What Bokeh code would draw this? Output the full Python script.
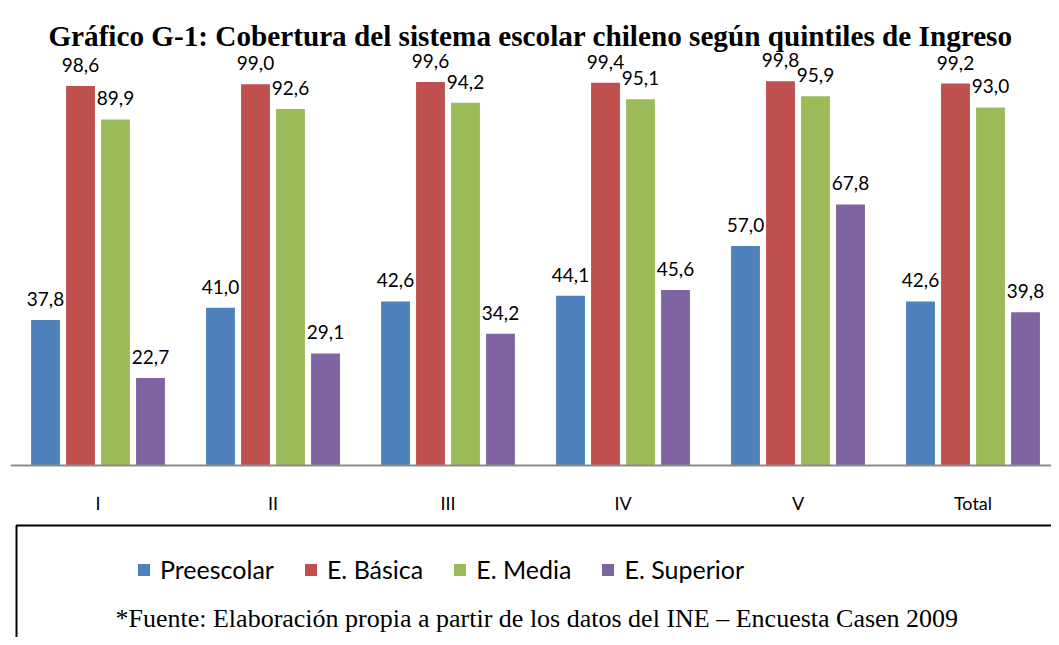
from bokeh.plotting import figure
from bokeh.models import (Range1d, Label, Legend, LegendItem, FixedTicker,
                          BoxAnnotation, ColumnDataSource)
from bokeh.core.properties import value
from bokeh.embed import file_html
from bokeh.resources import INLINE

title_text = "Gráfico G-1: Cobertura del sistema escolar chileno según quintiles de Ingreso"
footer_text = "*Fuente: Elaboración propia a partir de los datos del INE – Encuesta Casen 2009"
categories = ["I", "II", "III", "IV", "V", "Total"]
series_names = ["Preescolar", "E. Básica", "E. Media", "E. Superior"]
preescolar = [37.8, 41.0, 42.6, 44.1, 57.0, 42.6]
basica = [98.6, 99.0, 99.6, 99.4, 99.8, 99.2]
media = [89.9, 92.6, 94.2, 95.1, 95.9, 93.0]
superior = [22.7, 29.1, 34.2, 45.6, 67.8, 39.8]
colors = ["#4F81BD", "#C0504D", "#9BBB59", "#8064A2"]

series = [preescolar, basica, media, superior]
keys = ["pre", "bas", "med", "sup"]
offsets = [-0.3, -0.1, 0.1, 0.3]

idx = list(range(len(categories)))
data = {"i": idx}
for k, vals, off in zip(keys, series, offsets):
    data[k] = vals
    data[k + "_x"] = [i + 0.5 + off for i in idx]
    data[k + "_lbl"] = [f"{v:.1f}".replace(".", ",") for v in vals]
src = ColumnDataSource(data)

W, H = 1051, 637
PX_PER_CAT = 175.0
PX_PER_UNIT = 3.85
BASE_Y = 465          # canvas y of the zero line
LEFT = 10             # canvas x of the frame's left edge
frame_w = W - LEFT

p = figure(width=W, height=H,
           x_range=Range1d(0, frame_w / PX_PER_CAT),
           y_range=Range1d(-(H - BASE_Y) / PX_PER_UNIT, BASE_Y / PX_PER_UNIT),
           output_backend="svg", toolbar_location=None,
           min_border_left=LEFT, min_border_right=0,
           min_border_top=0, min_border_bottom=0)

p.xgrid.visible = False
p.ygrid.visible = False
p.yaxis.visible = False
p.outline_line_color = None
p.background_fill_color = "white"

ax = p.xaxis[0]
ax.fixed_location = 0
ax.ticker = FixedTicker(ticks=[i + 0.5 for i in idx], minor_ticks=[])
ax.major_label_overrides = {i + 0.5: c for i, c in zip(idx, categories)}
ax.axis_line_color = "#8c8c8c"
ax.axis_line_width = 2
ax.major_tick_line_color = None
ax.minor_tick_line_color = None
ax.major_label_text_font = "Lato"
ax.major_label_text_font_size = "18px"
ax.major_label_text_color = "#000000"
ax.major_label_standoff = 20

items = []
for k, name, c in zip(keys, series_names, colors):
    r = p.vbar(x=k + "_x", top=k, width=0.165, bottom=0,
               source=src, fill_color=c, line_color=None)
    p.text(x=k + "_x", y=k, text=k + "_lbl",
           source=src, text_align="center", text_baseline="middle",
           y_offset=-21, text_font=value("Lato"), text_font_size="19px",
           text_color="#000000")
    items.append(LegendItem(label=name, renderers=[r]))

# frame-relative screen units: x from frame left, y up from frame bottom
def sx(x):
    return x - LEFT

def sy(y):
    return H - y

box = BoxAnnotation(left=sx(16), right=sx(1300), top=sy(525), bottom=sy(800),
                    left_units="screen", right_units="screen",
                    top_units="screen", bottom_units="screen",
                    fill_alpha=0, fill_color=None,
                    line_color="black", line_alpha=1.0, line_width=2)
p.add_layout(box)

legend = Legend(items=items, orientation="horizontal",
                location=(sx(136), sy(584)),
                glyph_width=15, glyph_height=15, label_standoff=9, spacing=29,
                padding=0, margin=0, border_line_color=None,
                background_fill_alpha=0,
                label_text_font="Lato", label_text_font_size="25px",
                label_text_color="#000000")
p.add_layout(legend)

p.add_layout(Label(x=sx(530), y=sy(35), x_units="screen", y_units="screen",
                   text=title_text, text_align="center",
                   text_baseline="alphabetic",
                   text_font="Liberation Serif", text_font_style="bold",
                   text_font_size="29.2px", text_color="#000000"))

p.add_layout(Label(x=sx(115), y=sy(618), x_units="screen", y_units="screen",
                   text=footer_text, text_align="left",
                   text_baseline="alphabetic",
                   text_font="Liberation Serif",
                   text_font_size="26px", text_color="#000000"))

open("out.html", "w").write(file_html(p, INLINE))
